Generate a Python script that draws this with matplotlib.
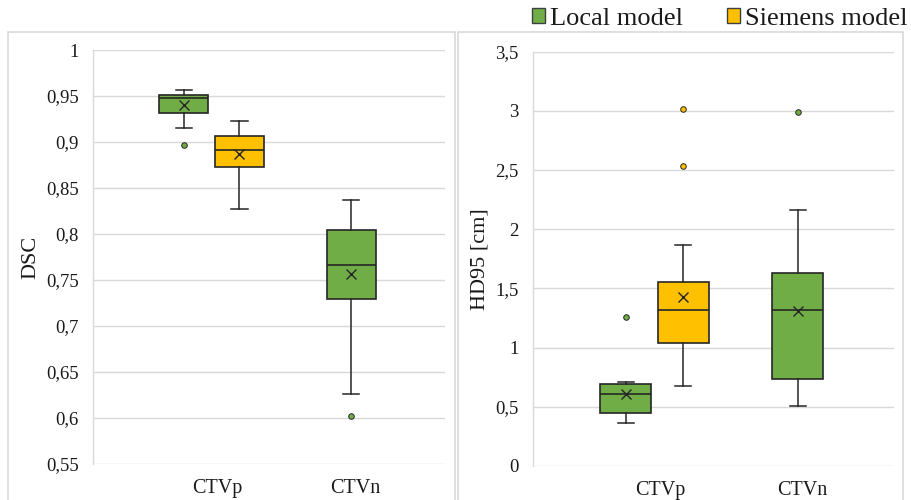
import matplotlib
matplotlib.use('Agg')
import matplotlib.pyplot as plt
from matplotlib.patches import Rectangle, Patch

plt.rcParams['font.family'] = ['Liberation Serif', 'DejaVu Serif']

categories = ['CTVp', 'CTVn']
series = ['Local model', 'Siemens model']
colors = ['#70AD47', '#FFC000']

# DSC box statistics per (series, category): whislo, q1, med, q3, whishi, mean, fliers
dsc_local_ctvp = dict(whislo=0.915, q1=0.9315, med=0.9475, q3=0.951, whishi=0.957, mean=0.940, fliers=[0.8964])
dsc_siemens_ctvp = dict(whislo=0.827, q1=0.873, med=0.8917, q3=0.907, whishi=0.923, mean=0.887, fliers=[])
dsc_local_ctvn = dict(whislo=0.6264, q1=0.729, med=0.766, q3=0.804, whishi=0.8366, mean=0.7565, fliers=[0.6022])

# HD95 [cm]
hd_local_ctvp = dict(whislo=0.364, q1=0.448, med=0.609, q3=0.693, whishi=0.713, mean=0.606, fliers=[1.262])
hd_siemens_ctvp = dict(whislo=0.674, q1=1.04, med=1.318, q3=1.555, whishi=1.867, mean=1.425, fliers=[3.016, 2.535])
hd_local_ctvn = dict(whislo=0.51, q1=0.736, med=1.316, q3=1.628, whishi=2.16, mean=1.312, fliers=[2.993])

dsc_boxes = [(0, 0, dsc_local_ctvp), (1, 0, dsc_siemens_ctvp), (0, 1, dsc_local_ctvn)]
hd_boxes = [(0, 0, hd_local_ctvp), (1, 0, hd_siemens_ctvp), (0, 1, hd_local_ctvn)]

dsc_ticks = [0.55, 0.6, 0.65, 0.7, 0.75, 0.8, 0.85, 0.9, 0.95, 1.0]
dsc_ticklabels = ['0,55', '0,6', '0,65', '0,7', '0,75', '0,8', '0,85', '0,9', '0,95', '1']
hd_ticks = [0, 0.5, 1, 1.5, 2, 2.5, 3, 3.5]
hd_ticklabels = ['0', '0,5', '1', '1,5', '2', '2,5', '3', '3,5']

W, H = 911, 500
fig = plt.figure(figsize=(W / 100, H / 100), dpi=100)

edge = '#262626'
grid = '#d9d9d9'
textc = '#1a1a1a'


def draw_panel(rect, boxes, ticks, ticklabels, ylabel, label_x):
    ax = fig.add_axes(rect)
    ax.set_axisbelow(True)
    for s, c, st in boxes:
        n_series = sum(1 for b in boxes if b[1] == c)
        offset = (-0.2 if s == 0 else 0.2) if n_series > 1 else 0.0
        pos = c + 1 + offset
        stat = dict(st)
        ax.bxp([stat], positions=[pos], widths=0.355, patch_artist=True,
               showmeans=True, capwidths=[0.115],
               boxprops=dict(facecolor=colors[s], edgecolor=edge, linewidth=1.2),
               medianprops=dict(color=edge, linewidth=1.2),
               whiskerprops=dict(color=edge, linewidth=1.1),
               capprops=dict(color=edge, linewidth=1.1),
               meanprops=dict(marker='x', markeredgecolor=edge, markerfacecolor=edge,
                              markersize=7.5, markeredgewidth=1.0),
               flierprops=dict(marker='o', markerfacecolor=colors[s], markeredgecolor=edge,
                               markersize=4, markeredgewidth=0.7))
    ax.set_xlim(0.15, 2.67)
    ax.set_ylim(ticks[0], ticks[-1])
    ax.set_yticks(ticks)
    ax.set_yticklabels(ticklabels)
    ax.set_xticks([1.04, 2.03])
    ax.set_xticklabels(categories)
    ax.tick_params(axis='y', length=0, pad=10, labelsize=13.5, labelcolor=textc)
    ax.tick_params(axis='x', length=0, pad=11, labelsize=14.5, labelcolor=textc)
    ax.yaxis.grid(True, color=grid, linewidth=1.0)
    for sp in ['top', 'right', 'bottom']:
        ax.spines[sp].set_visible(False)
    ax.spines['left'].set_color(grid)
    ax.spines['left'].set_linewidth(1.0)
    ax.set_ylabel(ylabel, fontsize=16, color=textc, va='center')
    ax.yaxis.set_label_coords(label_x, 0.5)
    return ax


ax1 = draw_panel([92.7 / W, 36 / H, (445 - 92.7) / W, 414 / H], dsc_boxes,
                 dsc_ticks, dsc_ticklabels, 'DSC', (31 - 92.7) / (445 - 92.7))
ax2 = draw_panel([532.7 / W, 34 / H, (894 - 532.7) / W, 414.3 / H], hd_boxes,
                 hd_ticks, hd_ticklabels, 'HD95 [cm]', (480 - 532.7) / (894 - 532.7))

# panel frames
for x0, x1 in [(8, 454.5), (457.7, 903)]:
    fig.patches.append(Rectangle((x0 / W, -0.01), (x1 - x0) / W, (H - 32) / H + 0.01,
                                 transform=fig.transFigure, fill=False,
                                 edgecolor=grid, linewidth=1.2))

handles = [Patch(facecolor=colors[i], edgecolor='#404040', linewidth=1.0, label=series[i])
           for i in range(2)]
leg = fig.legend(handles=handles, loc='upper left', bbox_to_anchor=(532 / W, 0.984), ncol=2,
                 frameon=False, fontsize=19, handlelength=0.49, handleheight=0.49,
                 handletextpad=0.2, columnspacing=1.65, borderpad=0, borderaxespad=0)
for t in leg.get_texts():
    t.set_color(textc)

fig.savefig('out.png', dpi=100)
